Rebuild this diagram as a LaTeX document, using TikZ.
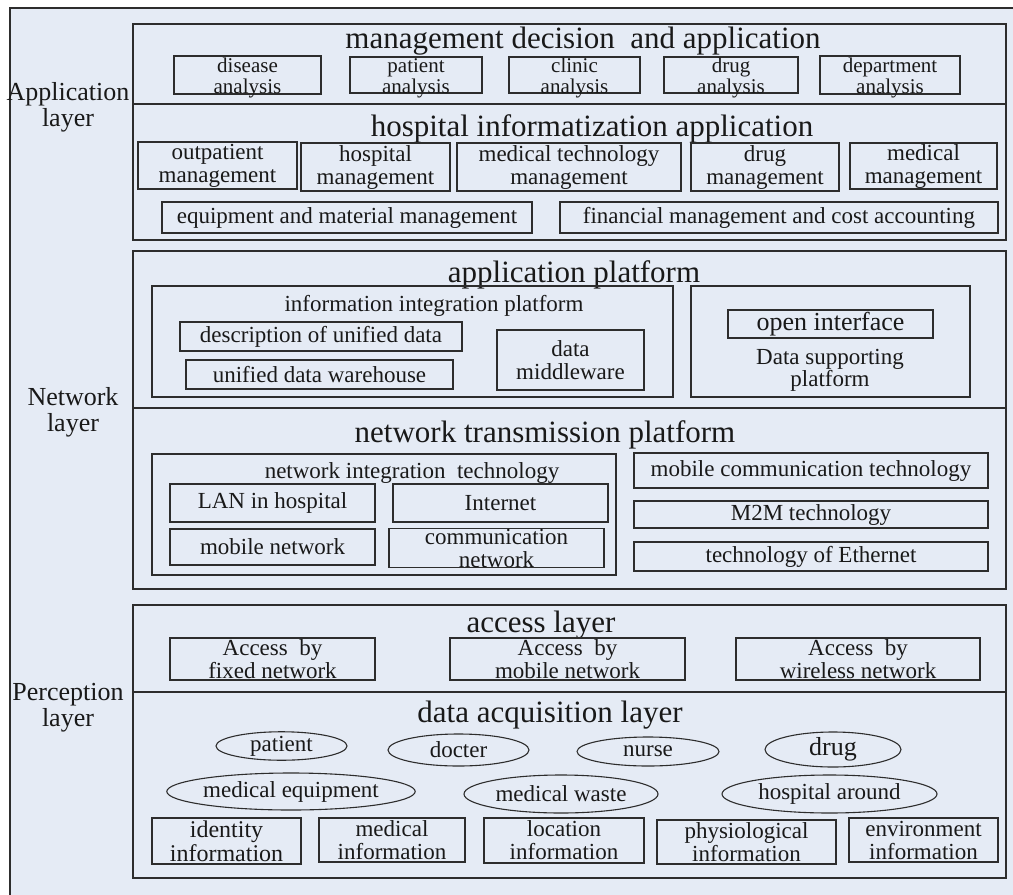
\documentclass[tikz,border=0pt]{standalone}
\usepackage{fontspec}
\setmainfont{Liberation Serif}
\usetikzlibrary{shapes.geometric}
\definecolor{bgc}{RGB}{229,235,245}
\definecolor{linec}{RGB}{45,45,45}
\definecolor{textc}{RGB}{25,25,25}
\newcommand\setfs[1]{\fontsize{#1}{#1}\selectfont}
\tikzset{
  frm/.style={draw=linec, line width=1.4pt},
  bxs/.style={draw=linec, line width=1.3pt, rectangle, inner sep=0pt, align=center, text=textc},
  ells/.style={draw=linec, line width=1.1pt, ellipse, inner sep=0pt, align=center, text=textc},
  ttl/.style={inner sep=0pt, align=center, text=textc, font=\setfs{31}},
  lbl/.style={inner sep=0pt, align=center, text=textc, font=\setfs{26}},
  sub/.style={inner sep=0pt, align=center, text=textc, font=\setfs{23}},
  anl/.style={inner sep=0pt, align=center, text=textc, font=\fontsize{21}{21}\selectfont}
}
% name, x1, y1, x2, y2, font size, text
\newcommand\mybox[7]{\node[bxs, minimum width={(#4-#2)*1pt}, minimum height={(#5-#3)*1pt}, font=\setfs{#6}] (#1) at ({(#2+#4)/2},{(#3+#5)/2}) {#7};}
\newcommand\myell[7]{\node[ells, minimum width={(#4-#2)*1pt}, minimum height={(#5-#3)*1pt}, font=\setfs{#6}] (#1) at ({(#2+#4)/2},{(#3+#5)/2}) {#7};}
\begin{document}
\begin{tikzpicture}[x=1pt, y=-1pt]
\useasboundingbox (0,0) rectangle (1013,895);
\clip (0,0) rectangle (1013,895);
\fill[white] (0,0) rectangle (1013,895);
% outer frame
\draw[frm, fill=bgc] (10,8) rectangle (1040,920);

% ---------------- Application layer ----------------
\node[lbl] (applbl) at (68,107) {Application\\layer};
\draw[frm] (133,24) rectangle (1006,240);
\draw[frm] (133,104) -- (1006,104);
\node[ttl] (mda) at (583,41) {management decision\ \ and application};
\mybox{disease}{174}{56}{321}{94}{21}{}
\mybox{patienta}{350}{57}{482}{93}{21}{}
\mybox{clinic}{509}{57}{640}{93}{21}{}
\mybox{druga}{664}{57}{798}{93}{21}{}
\mybox{dept}{820}{56}{960}{94}{21}{}
\node[anl] (diseaset) at ([yshift=-3pt]disease.center) {disease\\analysis};
\node[anl] (patientat) at ([yshift=-3pt]patienta.center) {patient\\analysis};
\node[anl] (clinict) at ([yshift=-3pt]clinic.center) {clinic\\analysis};
\node[anl] (drugat) at ([yshift=-3pt]druga.center) {drug\\analysis};
\node[anl] (deptt) at ([yshift=-3pt]dept.center) {department\\analysis};

\node[ttl] (hia) at (592,129) {hospital informatization application};
\mybox{outp}{138}{142}{297}{189}{23}{outpatient\\management}
\mybox{hospm}{301}{143}{450}{191}{23}{hospital\\management}
\mybox{medtech}{457}{143}{681}{191}{23}{medical technology\\management}
\mybox{drugm}{691}{143}{839}{191}{23}{drug\\management}
\mybox{medm}{850}{143}{997}{189}{23}{medical\\management}
\mybox{equip}{162}{202}{532}{233}{23}{equipment and material management}
\mybox{fin}{560}{202}{998}{233}{23}{financial management and cost accounting}

% ---------------- Network layer ----------------
\node[lbl] (netlbl) at (73,412) {Network\\layer};
\draw[frm] (133,251) rectangle (1006,589);
\draw[frm] (133,408) -- (1006,408);
\node[ttl] (ap) at (574,275) {application platform};
\mybox{iip}{152}{286}{673}{397}{23}{}
\node[sub] (iipt) at (434,306) {information integration platform};
\mybox{desc}{180}{322}{462}{351}{23}{description of unified data}
\mybox{udw}{186}{360}{453}{389}{23}{unified data warehouse}
\mybox{dmw}{497}{330}{644}{390}{23}{data\\middleware}
\mybox{dsp}{691}{286}{970}{397}{23}{}
\mybox{oi}{728}{310}{933}{338}{26}{open interface}
\node[sub, font=\fontsize{23}{22}\selectfont] (dspt) at (830,370) {Data supporting\\platform};

\node[ttl] (ntp) at (545,435) {network transmission platform};
\mybox{nit}{152}{454}{616}{575}{23}{}
\node[sub] (nitt) at (412,473) {network integration\ \ technology};
\mybox{lan}{170}{484}{375}{522}{23}{LAN in hospital}
\mybox{inet}{393}{484}{608}{522}{23}{Internet}
\mybox{mobn}{170}{529}{375}{565}{23}{mobile network}
\mybox{comn}{389}{529}{604}{567}{23}{communication\\network}
\mybox{mct}{634}{453}{988}{488}{23}{mobile communication technology}
\mybox{mtm}{634}{501}{988}{528}{23}{M2M technology}
\mybox{eth}{634}{542}{988}{571}{23}{technology of Ethernet}

% ---------------- Perception layer ----------------
\node[lbl] (perlbl) at (68,708) {Perception\\layer};
\draw[frm] (133,605) rectangle (1006,878);
\draw[frm] (133,692) -- (1006,692);
\node[ttl] (acl) at (541,625) {access layer};
\mybox{accf}{170}{638}{375}{680}{23}{Access\ \ by\\fixed network}
\mybox{accm}{450}{638}{685}{680}{23}{Access\ \ by\\mobile network}
\mybox{accw}{736}{638}{980}{680}{23}{Access\ \ by\\wireless network}

\node[ttl] (dal) at (550,715) {data acquisition layer};
\myell{epat}{216}{734}{347}{758}{23}{patient}
\myell{edoc}{388}{734}{529}{766}{23}{docter}
\myell{enur}{577}{737}{719}{766}{23}{nurse}
\myell{edrug}{765}{732}{901}{767}{26}{drug}
\myell{eequip}{174}{773}{408}{810}{23}{medical equipment}
\myell{ewaste}{464}{775}{658}{813}{23}{medical waste}
\myell{earound}{722}{775}{937}{813}{23}{hospital around}

\mybox{idinf}{152}{818}{301}{864}{24}{identity\\information}
\mybox{medinf}{319}{818}{465}{862}{23}{medical\\information}
\mybox{locinf}{484}{818}{644}{863}{23}{location\\information}
\mybox{phyinf}{657}{820}{836}{864}{23}{physiological\\information}
\mybox{envinf}{849}{818}{998}{862}{23}{environment\\information}
\end{tikzpicture}
\end{document}
